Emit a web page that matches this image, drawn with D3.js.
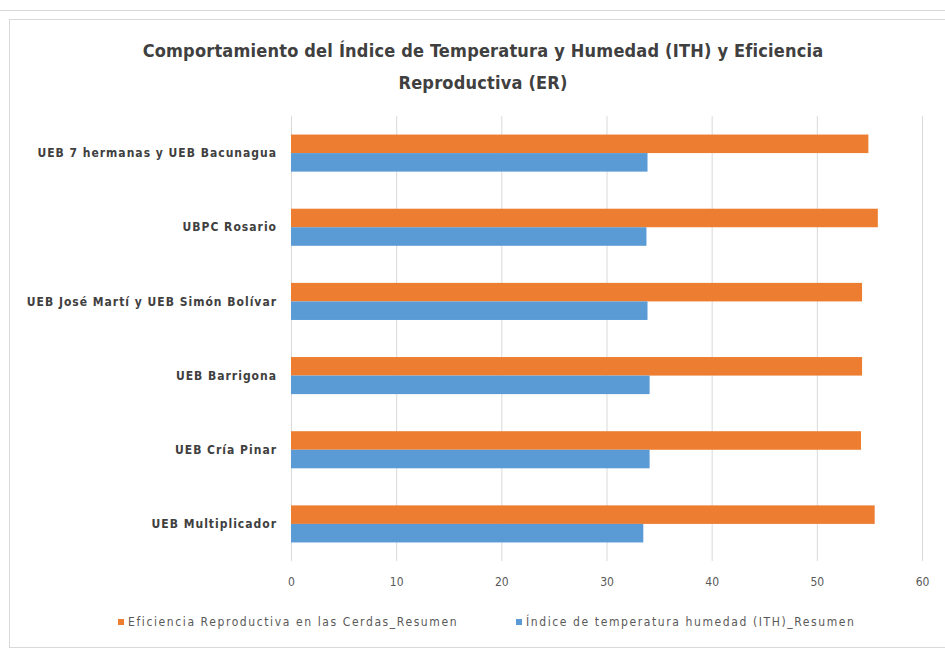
<!DOCTYPE html>
<html>
<head>
<meta charset="utf-8">
<script src="https://cdn.jsdelivr.net/npm/d3@7"></script>
<style>
  body { margin: 0; background: #fff; }
  svg text { font-family: "Liberation Sans Narrow", "DejaVu Sans Condensed", "Open Sans", sans-serif; }
</style>
</head>
<body>
<svg id="container" width="945" height="650"></svg>
<script>
const categories = [
  'UEB 7 hermanas y UEB Bacunagua',
  'UBPC Rosario',
  'UEB José Martí y UEB Simón Bolívar',
  'UEB Barrigona',
  'UEB Cría Pinar',
  'UEB Multiplicador'
]
const eficiencia = [54.9, 55.8, 54.3, 54.3, 54.2, 55.5]
const ith = [33.9, 33.8, 33.9, 34.1, 34.1, 33.5]
const seriesNames = [
  'Eficiencia Reproductiva en las Cerdas_Resumen',
  'Índice de temperatura humedad (ITH)_Resumen'
]
const xTicks = [0, 10, 20, 30, 40, 50, 60]

const colors = ['#ED7D31', '#5B9BD5']
const svg = d3.select('#container')

// frame
svg.append('line').attr('x1', 0).attr('x2', 945).attr('y1', 10.5).attr('y2', 10.5)
  .attr('stroke', '#d9d9d9')
svg.append('rect').attr('x', 9.5).attr('y', 19.5).attr('width', 940).attr('height', 628)
  .attr('fill', 'none').attr('stroke', '#d9d9d9')

// title
const title = svg.append('text').attr('text-anchor', 'middle')
  .attr('font-size', 18).attr('font-weight', 'bold').attr('fill', '#404040')
  .attr('letter-spacing', 0.2)
title.append('tspan').attr('x', 483).attr('y', 57)
  .text('Comportamiento del Índice de Temperatura y Humedad (ITH) y Eficiencia')
title.append('tspan').attr('x', 483).attr('y', 89).text('Reproductiva (ER)')

const margin = { left: 291, right: 23, top: 116, bottom: 89 }
const width = 945 - margin.left - margin.right
const height = 650 - margin.top - margin.bottom
const g = svg.append('g').attr('transform', `translate(${margin.left},${margin.top})`)

const x = d3.scaleLinear().domain([0, 60]).range([0, width])
const y = d3.scaleBand().domain(categories).range([0, height]).paddingInner(0.5).paddingOuter(0.25)
const ySub = d3.scaleBand().domain([0, 1]).range([0, y.bandwidth()])

// gridlines
g.selectAll('.grid').data(xTicks).enter().append('line')
  .attr('x1', (d) => x(d) + 0.5).attr('x2', (d) => x(d) + 0.5)
  .attr('y1', 0).attr('y2', height)
  .attr('stroke', '#d9d9d9')

const rows = categories.map((c, i) => ({ c, vals: [eficiencia[i], ith[i]] }))
const row = g.selectAll('.row').data(rows).enter().append('g')
  .attr('transform', (d) => `translate(0,${y(d.c)})`)
row.selectAll('rect').data((d) => d.vals).enter().append('rect')
  .attr('x', 0).attr('y', (d, i) => ySub(i))
  .attr('width', (d) => x(d)).attr('height', ySub.bandwidth())
  .attr('fill', (d, i) => colors[i])

// category labels
g.selectAll('.cat').data(categories).enter().append('text')
  .attr('x', -14).attr('y', (d) => y(d) + y.bandwidth() / 2)
  .attr('dy', '0.35em').attr('text-anchor', 'end')
  .attr('font-size', 12).attr('font-weight', 'bold').attr('fill', '#404040')
  .attr('letter-spacing', 1)
  .text((d) => d)

// x axis labels
const xAxis = g.append('g').attr('transform', `translate(0,${height})`)
  .call(d3.axisBottom(x).tickValues(xTicks).tickSize(0).tickPadding(16))
xAxis.select('.domain').remove()
xAxis.selectAll('text').attr('font-size', 12).attr('fill', '#595959')
  .style('font-family', '"Liberation Sans Narrow", "DejaVu Sans Condensed", sans-serif')

// legend
const legendX = [118, 516]
const legend = svg.selectAll('.legend').data(seriesNames).enter().append('g')
  .attr('transform', (d, i) => `translate(${legendX[i]},622)`)
legend.append('rect').attr('x', 0).attr('y', -3).attr('width', 6).attr('height', 6)
  .attr('fill', (d, i) => colors[i])
legend.append('text').attr('x', 10).attr('dy', '0.35em')
  .attr('font-size', 12).attr('fill', '#595959').attr('letter-spacing', 1.6)
  .text((d) => d)
</script>
</body>
</html>
